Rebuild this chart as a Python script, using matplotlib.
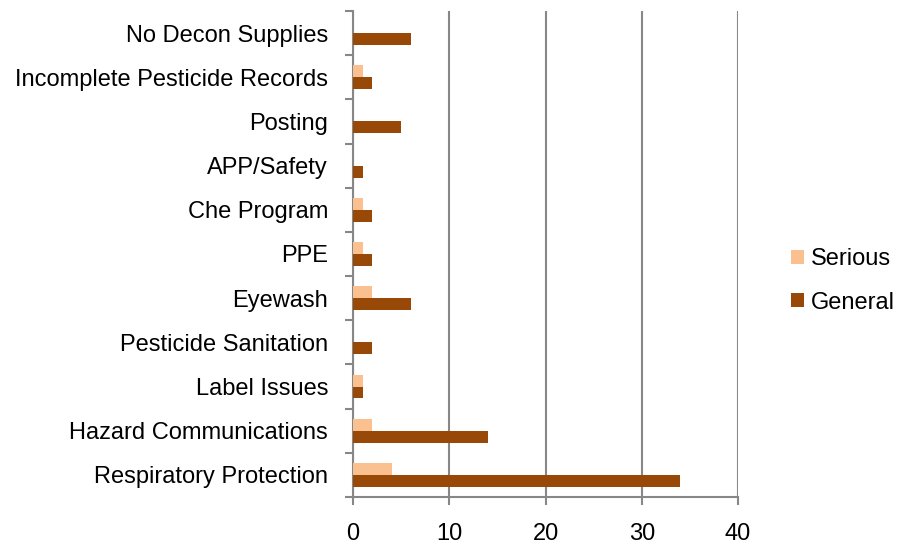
import matplotlib
matplotlib.use("Agg")
import matplotlib.pyplot as plt
import numpy as np

categories = ["Respiratory Protection", "Hazard Communications", "Label Issues",
              "Pesticide Sanitation", "Eyewash", "PPE", "Che Program",
              "APP/Safety", "Posting", "Incomplete Pesticide Records",
              "No Decon Supplies"]
serious = [4, 2, 1, 0, 2, 1, 1, 0, 0, 1, 0]
general = [34, 14, 1, 2, 6, 2, 2, 1, 5, 2, 6]
xticks = [0, 10, 20, 30, 40]

plt.rcParams['font.family'] = ['Liberation Sans', 'DejaVu Sans']
fig = plt.figure(figsize=(9.01, 5.45), dpi=100)
ax = fig.add_axes([353/901, 1-497/545, (738-353)/901, (497-11)/545])

y = np.arange(len(categories))
h = 0.27
ax.barh(y + h/2, serious, height=h, color='#FAC090', label='Serious', zorder=3)
ax.barh(y - h/2, general, height=h, color='#984807', label='General', zorder=3)

ax.set_xlim(0, 40)
ax.set_ylim(-0.5, len(categories) - 0.5)
ax.set_xticks(xticks)
ax.set_xticklabels([str(t) for t in xticks], fontsize=17)
ax.set_yticks(y)
ax.set_yticklabels(categories, fontsize=17)
ax.set_yticks(np.arange(-0.5, len(categories), 1), minor=True)
ax.tick_params(axis='y', which='major', length=0, pad=18)
ax.tick_params(axis='y', which='minor', length=6, color='#878787', width=1.5)
ax.tick_params(axis='x', length=6, color='#878787', width=1.5, pad=13)
ax.grid(axis='x', color='#878787', linewidth=1.5, zorder=0)
for s in ['top', 'right']:
    ax.spines[s].set_visible(False)
for s in ['left', 'bottom']:
    ax.spines[s].set_color('#878787')
    ax.spines[s].set_linewidth(1.5)

leg = fig.legend(loc='center left', bbox_to_anchor=(770/901, 1-281/545), frameon=False,
                 fontsize=17, handlelength=0.55, handleheight=0.55, handletextpad=0.3,
                 labelspacing=0.9)
fig.savefig('out.png', dpi=100)
